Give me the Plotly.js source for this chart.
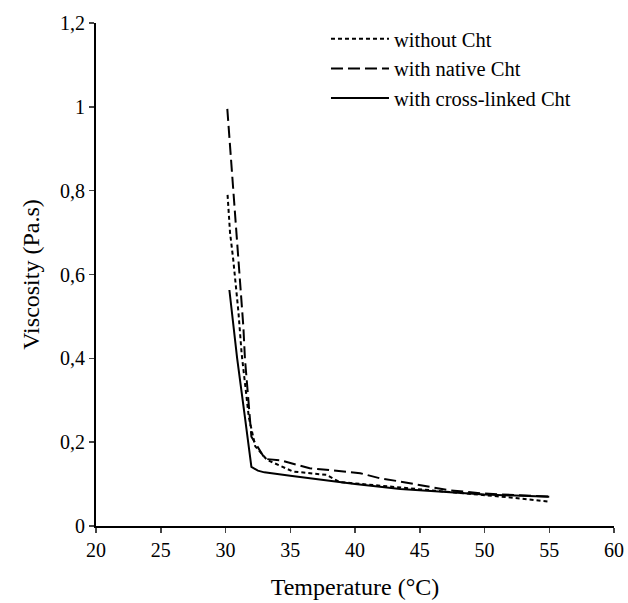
<!DOCTYPE html>
<html>
<head>
<meta charset="utf-8">
<script src="https://cdn.plot.ly/plotly-3.0.1.min.js"></script>
<style>html,body{margin:0;padding:0;background:#fff;}#chart{width:628px;height:603px;}</style>
</head>
<body>
<div id="chart"></div>
<script>
// without Cht (dotted)
const tempWithout = [30.16, 30.35, 30.6, 31.0, 31.25, 31.8, 32.3, 33.2, 35.2, 37.8, 38.8, 41.4, 45, 49.65, 52, 55];
const viscWithout = [0.79, 0.70, 0.635, 0.51, 0.41, 0.26, 0.19, 0.158, 0.13, 0.122, 0.105, 0.098, 0.088, 0.076, 0.068, 0.058];
// with native Cht (dashed)
const tempNative = [30.14, 30.6, 30.87, 31.12, 31.38, 31.5, 32.0, 33.05, 34.2, 36.5, 40.4, 41.9, 43.5, 47.1, 49.65, 55];
const viscNative = [0.995, 0.80, 0.70, 0.60, 0.475, 0.40, 0.213, 0.16, 0.157, 0.138, 0.126, 0.114, 0.106, 0.086, 0.078, 0.07];
// with cross-linked Cht (solid)
const tempCross = [30.3, 30.9, 31.5, 32.0, 32.5, 33.0, 35.0, 38.3, 40.0, 43.5, 45, 50, 55];
const viscCross = [0.563, 0.40, 0.26, 0.141, 0.132, 0.128, 0.12, 0.106, 0.10, 0.088, 0.085, 0.075, 0.07];

const seriesNames = ["without Cht", "with native Cht", "with cross-linked Cht"];
const xTicks = [20, 25, 30, 35, 40, 45, 50, 55, 60];
const yTicks = [0, 0.2, 0.4, 0.6, 0.8, 1, 1.2];
const yTickText = ["0", "0,2", "0,4", "0,6", "0,8", "1", "1,2"];

const font = "Liberation Serif, Times New Roman, serif";
const traces = [
  {x: tempWithout, y: viscWithout, name: seriesNames[0], mode: "lines",
   line: {color: "#000", width: 2, dash: "4px,3px"}},
  {x: tempNative, y: viscNative, name: seriesNames[1], mode: "lines",
   line: {color: "#000", width: 2, dash: "12px,5px"}},
  {x: tempCross, y: viscCross, name: seriesNames[2], mode: "lines",
   line: {color: "#000", width: 2}}
];
const layout = {
  width: 628, height: 603,
  margin: {l: 96, r: 14, t: 23, b: 77},
  paper_bgcolor: "#fff", plot_bgcolor: "#fff",
  font: {family: font, color: "#000", size: 20},
  showlegend: true,
  legend: {x: 0.444, y: 1.008, xanchor: "left", yanchor: "top", bgcolor: "rgba(0,0,0,0)",
           font: {family: font, size: 20.5}, itemwidth: 58, tracegroupgap: 0},
  xaxis: {range: [20, 60], tickvals: xTicks, ticks: "outside", ticklen: 5, tickwidth: 1.5,
          showline: true, linewidth: 2, linecolor: "#000", showgrid: false, zeroline: false,
          title: {text: "Temperature (°C)", font: {family: font, size: 24}, standoff: 18},
          tickfont: {family: font, size: 20}},
  yaxis: {range: [0, 1.2], tickvals: yTicks, ticktext: yTickText, ticks: "outside", ticklen: 5, tickwidth: 1.5,
          showline: true, linewidth: 2, linecolor: "#000", showgrid: false, zeroline: false,
          title: {text: "Viscosity (Pa.s)", font: {family: font, size: 24}, standoff: 14},
          tickfont: {family: font, size: 20}}
};
Plotly.newPlot("chart", traces, layout, {displayModeBar: false, staticPlot: true});
</script>
</body>
</html>
